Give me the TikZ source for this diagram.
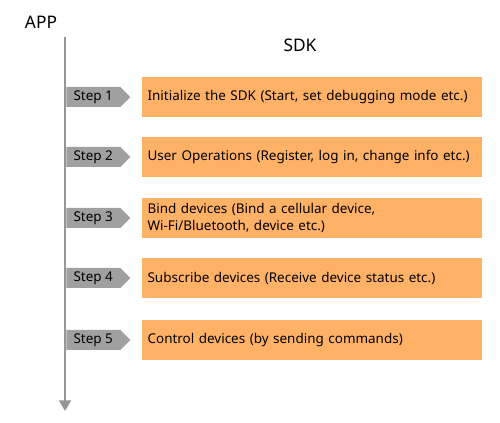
\documentclass[tikz,border=0pt]{standalone}
\usepackage{fontspec}
\setmainfont{Noto Sans}
\usetikzlibrary{shapes.symbols, arrows.meta}
\definecolor{tagray}{RGB}{160,160,160}
\definecolor{axisgray}{RGB}{150,150,150}
\definecolor{sdkorange}{RGB}{255,178,102}

\begin{document}
\begin{tikzpicture}[x=0.75pt, y=-0.75pt, >=latex, font=\fontsize{10.1}{12.5}\selectfont,
	steptag/.style={shape=signal, signal to=east, fill=tagray, minimum width=48pt,
		minimum height=15pt, inner sep=1pt, anchor=west},
	sdkbox/.style={fill=sdkorange, text width=247pt, minimum height=30pt,
		inner xsep=4pt, align=left, anchor=west}]
	% Bildbereich
	\useasboundingbox (0,0) rectangle (500,423);
	% Ueberschriften
	\node (app) at (41,22) {\fontsize{13}{15}\selectfont APP};
	\node (sdk) at (300,45) {\fontsize{13}{15}\selectfont SDK};
	% Zeitachse
	\coordinate (axtop) at (65,37);
	\coordinate (axend) at (65,411);
	\draw[-{Triangle[length=8pt,width=9pt]}, axisgray, line width=1.5pt] (axtop) -- (axend);
	% Schritte
	\foreach \i/\y/\txt in {1/97/{Initialize the SDK (Start, set debugging mode etc.)},
		2/157/{User Operations (Register, log in, change info etc.)},
		3/218/{Bind devices (Bind a cellular device,\\Wi-Fi/Bluetooth, device etc.)},
		4/278/{Subscribe devices (Receive device status etc.)},
		5/340/{Control devices (by sending commands)}}
	{
		\node[steptag] (tag\i) at (66,\y) {Step \i};
		\node[sdkbox] (box\i) at (142,\y) {\txt};
	}
\end{tikzpicture}
\end{document}
